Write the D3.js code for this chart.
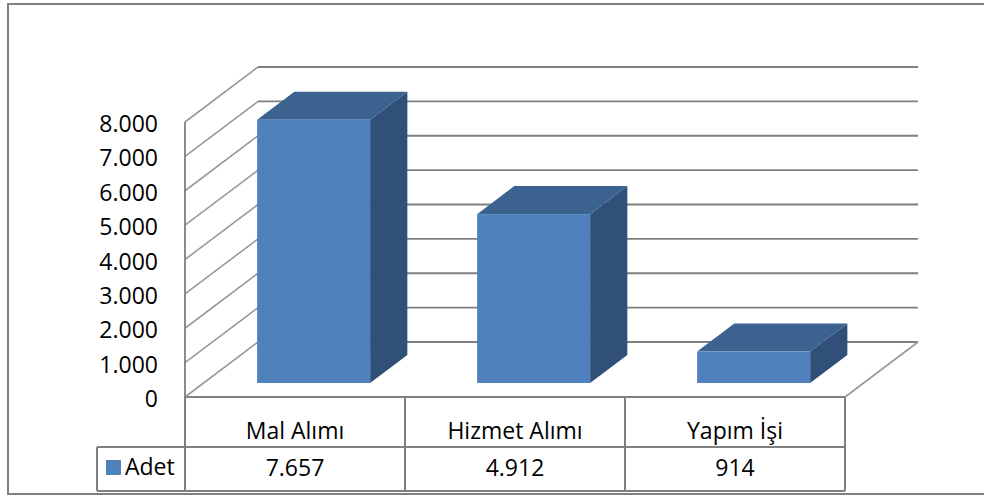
<!DOCTYPE html>
<html>
<head>
<meta charset="utf-8">
<script src="https://cdn.jsdelivr.net/npm/d3@7"></script>
<style>
  html, body { margin: 0; padding: 0; background: #fff; }
  svg { display: block; }
  text { font-family: "Open Sans", "Liberation Sans", sans-serif; fill: #000; }
</style>
</head>
<body>
<svg id="chart" width="984" height="496"></svg>
<script>
// ---- data ----
const categories = ["Mal Alımı", "Hizmet Alımı", "Yapım İşi"];
const seriesName = "Adet";
const values = [7657, 4912, 914];
const valueLabels = ["7.657", "4.912", "914"];
const yTicks = [0, 1000, 2000, 3000, 4000, 5000, 6000, 7000, 8000];

// ---- layout ----
const W = 984, H = 496;
const svg = d3.select("#chart");
const fmt = d => d3.format(",")(d).replace(/,/g, ".");

const front = { left: 185, right: 845, top: 122, bottom: 397 };
const depth = { dx: 73, dy: -55 };          // 3D depth offset (back wall)
const barDepth = [0.255, 0.765];            // bar front/back in depth fraction
const barWidthFrac = 113 / 220;

const x = d3.scaleBand().domain(categories).range([front.left, front.right]);
const y = d3.scaleLinear().domain([0, 8000]).range([front.bottom, front.top]);

const gridColor = "#7f7f7f";
const lineColor = "#808080";

// outer border
svg.append("rect")
  .attr("x", 8).attr("y", 4).attr("width", W + 20).attr("height", 490)
  .attr("fill", "none").attr("stroke", lineColor).attr("stroke-width", 2);

// back wall gridlines
const g = svg.append("g");
g.selectAll("line.grid").data(yTicks).enter().append("line")
  .attr("class", "grid")
  .attr("x1", front.left + depth.dx).attr("x2", front.right + depth.dx)
  .attr("y1", d => y(d) + depth.dy).attr("y2", d => y(d) + depth.dy)
  .attr("stroke", gridColor).attr("stroke-width", 1.8);

// side wall diagonals
g.selectAll("line.side").data(yTicks).enter().append("line")
  .attr("class", "side")
  .attr("x1", front.left).attr("x2", front.left + depth.dx)
  .attr("y1", d => y(d)).attr("y2", d => y(d) + depth.dy)
  .attr("stroke", "#999999").attr("stroke-width", 1.6);

// left wall front edge
g.append("line")
  .attr("x1", front.left).attr("x2", front.left)
  .attr("y1", y(8000)).attr("y2", y(0))
  .attr("stroke", gridColor).attr("stroke-width", 1.8);

// floor right diagonal
g.append("line")
  .attr("x1", front.right).attr("x2", front.right + depth.dx)
  .attr("y1", y(0)).attr("y2", y(0) + depth.dy)
  .attr("stroke", "#999999").attr("stroke-width", 1.6);

// floor front edge
g.append("line")
  .attr("x1", front.left).attr("x2", front.right)
  .attr("y1", y(0)).attr("y2", y(0))
  .attr("stroke", lineColor).attr("stroke-width", 1.8);

// ---- bars ----
const bars = svg.append("g");
categories.forEach((c, i) => {
  const v = values[i];
  const bw = x.bandwidth() * barWidthFrac;
  const x0 = x(c) + (x.bandwidth() - bw) / 2;
  const fdx = depth.dx * barDepth[0], fdy = depth.dy * barDepth[0];
  const bdx = depth.dx * barDepth[1], bdy = depth.dy * barDepth[1];
  const L = x0 + fdx, R = x0 + bw + fdx;
  const B = y(0) + fdy, T = y(v) + fdy;
  const ddx = bdx - fdx, ddy = bdy - fdy;
  // side face
  bars.append("path")
    .attr("d", `M${R},${T}L${R + ddx},${T + ddy}L${R + ddx},${B + ddy}L${R},${B}Z`)
    .attr("fill", "#30507a");
  // top face
  bars.append("path")
    .attr("d", `M${L},${T}L${L + ddx},${T + ddy}L${R + ddx},${T + ddy}L${R},${T}Z`)
    .attr("fill", "#3c6290");
  // front face
  bars.append("rect")
    .attr("x", L).attr("y", T).attr("width", bw).attr("height", B - T)
    .attr("fill", "#4f81bd");
});

// ---- y axis labels ----
svg.append("g").selectAll("text").data(yTicks).enter().append("text")
  .attr("x", 158).attr("y", d => y(d) + 10)
  .attr("text-anchor", "end")
  .attr("font-size", 23)
  .text(d => fmt(d));

// ---- data table ----
const tbl = svg.append("g");
const rowTop = 447, rowBottom = 491, legLeft = 97;
// header verticals
x.domain().forEach(c => {
  tbl.append("line").attr("x1", x(c)).attr("x2", x(c))
    .attr("y1", y(0)).attr("y2", rowBottom)
    .attr("stroke", lineColor).attr("stroke-width", 2);
});
tbl.append("line").attr("x1", front.right).attr("x2", front.right)
  .attr("y1", y(0)).attr("y2", rowBottom)
  .attr("stroke", lineColor).attr("stroke-width", 2);
// data row box
tbl.append("line").attr("x1", legLeft).attr("x2", front.right)
  .attr("y1", rowTop).attr("y2", rowTop)
  .attr("stroke", lineColor).attr("stroke-width", 2);
tbl.append("line").attr("x1", legLeft).attr("x2", front.right)
  .attr("y1", rowBottom).attr("y2", rowBottom)
  .attr("stroke", lineColor).attr("stroke-width", 2);
tbl.append("line").attr("x1", legLeft).attr("x2", legLeft)
  .attr("y1", rowTop).attr("y2", rowBottom)
  .attr("stroke", lineColor).attr("stroke-width", 2);

// header text
tbl.selectAll("text.cat").data(categories).enter().append("text")
  .attr("class", "cat")
  .attr("x", d => x(d) + x.bandwidth() / 2).attr("y", 439)
  .attr("text-anchor", "middle").attr("font-size", 23)
  .text(d => d);
// values text
tbl.selectAll("text.val").data(valueLabels).enter().append("text")
  .attr("class", "val")
  .attr("x", (d, i) => x(categories[i]) + x.bandwidth() / 2).attr("y", 476)
  .attr("text-anchor", "middle").attr("font-size", 23)
  .text(d => d);
// legend key
tbl.append("rect").attr("x", 106).attr("y", 460).attr("width", 15).attr("height", 15)
  .attr("fill", "#4f81bd");
tbl.append("text").attr("x", 125).attr("y", 475).attr("font-size", 23).text(seriesName);
</script>
</body>
</html>
